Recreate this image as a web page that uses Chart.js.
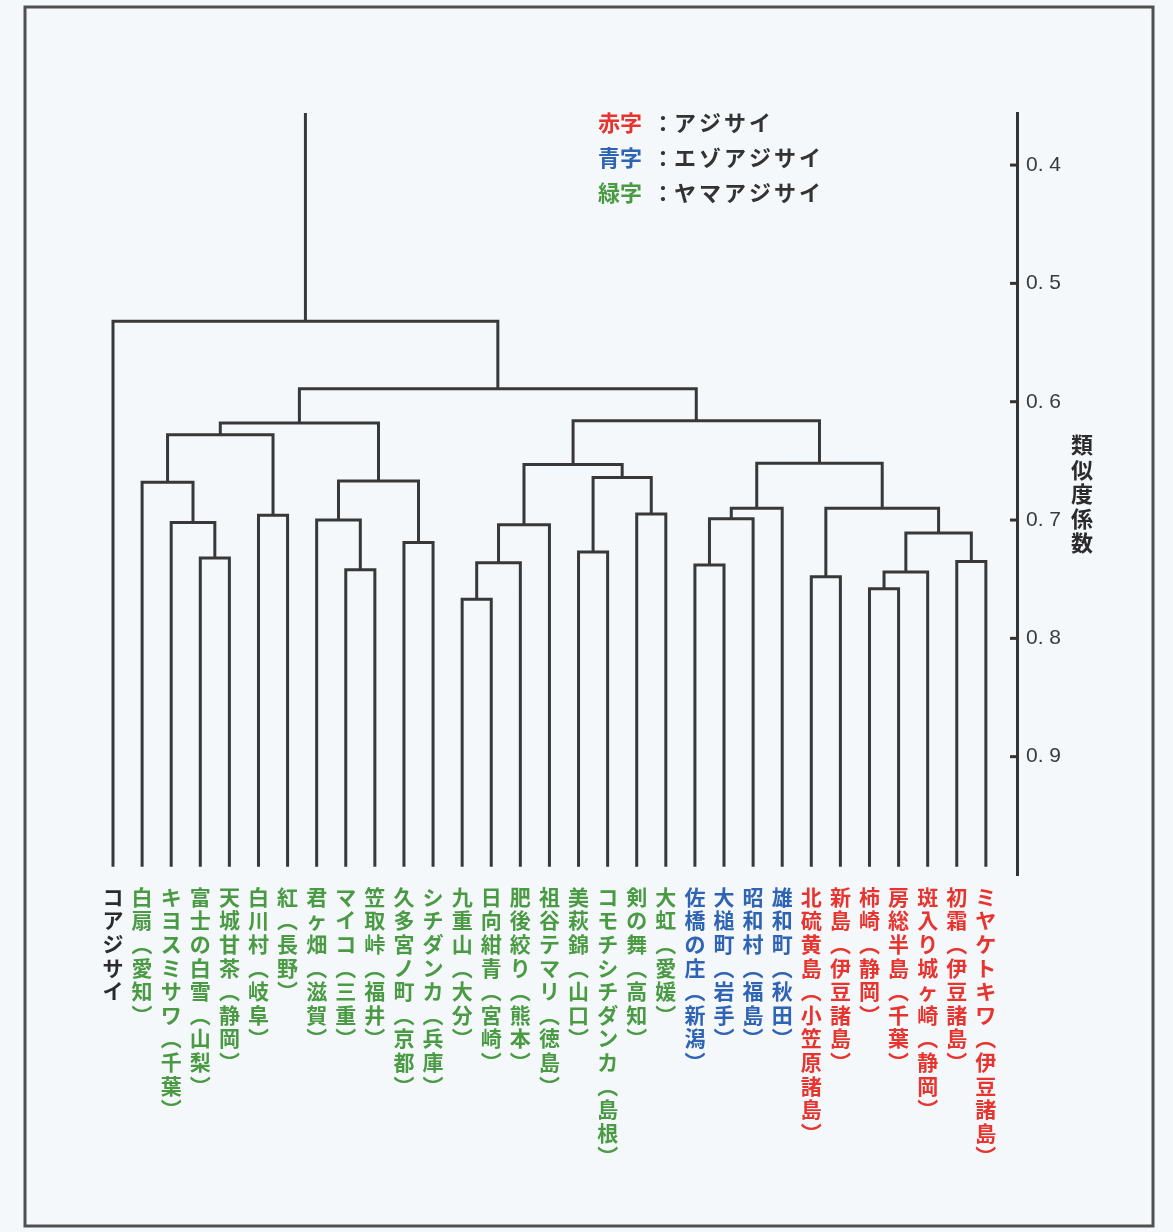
<!DOCTYPE html>
<html lang="ja">
<head>
<meta charset="utf-8">
<title>アジサイ類の類似度係数デンドログラム</title>
<script src="https://cdn.jsdelivr.net/npm/chart.js@4/dist/chart.umd.min.js"></script>
<style>
  html, body { margin: 0; padding: 0; background: #f4f8fb; }
  #wrap { width: 1173px; height: 1232px; position: relative; }
</style>
</head>
<body>
<div id="wrap"><canvas id="dendroChart"></canvas></div>
<script>
// 品種名（左から順に並ぶ葉）
const leafNames = [
  'コアジサイ',
  '白扇（愛知）', 'キヨスミサワ（千葉）', '富士の白雪（山梨）', '天城甘茶（静岡）',
  '白川村（岐阜）', '紅（長野）', '君ヶ畑（滋賀）', 'マイコ（三重）', '笠取峠（福井）',
  '久多宮ノ町（京都）', 'シチダンカ（兵庫）', '九重山（大分）', '日向紺青（宮崎）',
  '肥後絞り（熊本）', '祖谷テマリ（徳島）', '美萩錦（山口）', 'コモチシチダンカ（島根）',
  '剣の舞（高知）', '大虹（愛媛）',
  '佐橋の庄（新潟）', '大槌町（岩手）', '昭和村（福島）', '雄和町（秋田）',
  '北硫黄島（小笠原諸島）', '新島（伊豆諸島）', '柿崎（静岡）', '房総半島（千葉）',
  '斑入り城ヶ崎（静岡）', '初霜（伊豆諸島）', 'ミヤケトキワ（伊豆諸島）'
];
// 0: コアジサイ, 1: アジサイ(赤字), 2: エゾアジサイ(青字), 3: ヤマアジサイ(緑字)
const leafGroups = [
  0,
  3, 3, 3, 3, 3, 3, 3, 3, 3, 3, 3, 3, 3, 3, 3, 3, 3, 3, 3,
  2, 2, 2, 2,
  1, 1, 1, 1, 1, 1, 1
];
const groupColors = ['#2b2b2b', '#e8342e', '#2f63b3', '#4a9a44'];

// 結合（葉は 0〜30、結合ノードは 31 から順に番号を振る）
const mergeLeft  = [3, 2, 1, 5, 33, 8, 7, 10, 37, 35, 12, 41, 42, 16, 18, 44, 43, 20, 48, 49, 24, 26, 52, 29, 53, 51, 50, 47, 40, 0];
const mergeRight = [4, 31, 32, 6, 34, 9, 36, 11, 38, 39, 13, 14, 15, 17, 19, 45, 46, 21, 22, 23, 25, 27, 28, 30, 54, 55, 56, 57, 58, 59];
const mergeHeight = [0.732, 0.702, 0.668, 0.696, 0.628, 0.742, 0.700, 0.719, 0.667, 0.618,
                     0.767, 0.736, 0.704, 0.727, 0.695, 0.664, 0.653, 0.738, 0.699, 0.690,
                     0.748, 0.758, 0.744, 0.735, 0.711, 0.690, 0.652, 0.616, 0.589, 0.532];

const yTicks = [0.4, 0.5, 0.6, 0.7, 0.8, 0.9];
const leafBase = 0.993;
const axisTop = 0.356;
const axisBottom = 1.0;

// 凡例
const legendKeys = ['赤字', '青字', '緑字'];
const legendNames = ['アジサイ', 'エゾアジサイ', 'ヤマアジサイ'];
const legendGroups = [1, 2, 3];
const axisTitle = '類似度係数';

// 縦書き用：括弧を縦書き用の字形にする
function verticalLines(name) {
  return Array.from(name).map(c => c === '（' ? '︵' : c === '）' ? '︶' : c);
}

// 樹形図の線分を作る
const nodeX = leafNames.map((_, i) => i);
const nodeY = leafNames.map(() => leafBase);
const segments = [];
mergeLeft.forEach((l, k) => {
  const r = mergeRight[k];
  const h = mergeHeight[k];
  segments.push([
    { x: nodeX[l], y: nodeY[l] },
    { x: nodeX[l], y: h },
    { x: nodeX[r], y: h },
    { x: nodeX[r], y: nodeY[r] }
  ]);
  nodeX.push((nodeX[l] + nodeX[r]) / 2);
  nodeY.push(h);
});
const rootId = nodeX.length - 1;
segments.push([
  { x: nodeX[rootId], y: nodeY[rootId] },
  { x: nodeX[rootId], y: axisTop }
]);

const CJK = '"Noto Sans CJK JP", "Noto Sans", sans-serif';

const decorPlugin = {
  id: 'decor',
  beforeDraw(chart) {
    const ctx = chart.ctx;
    ctx.save();
    ctx.fillStyle = '#f4f8fb';
    ctx.fillRect(0, 0, chart.width, chart.height);
    ctx.restore();
  },
  afterDraw(chart) {
    const ctx = chart.ctx;
    const area = chart.chartArea;
    const yScale = chart.scales.y;
    ctx.save();

    // 外枠
    ctx.strokeStyle = '#505050';
    ctx.lineWidth = 3;
    ctx.strokeRect(25, 7, 1128, 1219);

    // 目盛り（内向き）
    ctx.strokeStyle = '#333';
    ctx.lineWidth = 3;
    yTicks.forEach(v => {
      const y = yScale.getPixelForValue(v);
      ctx.beginPath();
      ctx.moveTo(area.right - 7, y);
      ctx.lineTo(area.right, y);
      ctx.stroke();
    });

    // 凡例
    ctx.font = 'bold 22px ' + CJK;
    ctx.textBaseline = 'middle';
    ctx.textAlign = 'left';
    legendKeys.forEach((key, i) => {
      const y = 123 + i * 35;
      ctx.fillStyle = groupColors[legendGroups[i]];
      ctx.fillText(key, 598, y);
      ctx.fillStyle = '#333';
      ctx.fillText('：', 652, y);
      Array.from(legendNames[i]).forEach((c, j) => {
        ctx.fillText(c, 674 + j * 25, y);
      });
    });

    // 縦軸タイトル（縦書き）
    ctx.font = 'bold 22px ' + CJK;
    ctx.textAlign = 'center';
    ctx.fillStyle = '#2b2b2b';
    Array.from(axisTitle).forEach((c, i) => {
      ctx.fillText(c, 1082, 445 + i * 24.5);
    });
    ctx.restore();
  }
};

new Chart(document.getElementById('dendroChart'), {
  type: 'scatter',
  data: {
    datasets: segments.map(seg => ({
      data: seg,
      showLine: true,
      borderColor: '#383838',
      borderWidth: 3,
      borderJoinStyle: 'miter',
      borderCapStyle: 'butt',
      pointRadius: 0,
      tension: 0
    }))
  },
  options: {
    responsive: true,
    maintainAspectRatio: false,
    animation: false,
    layout: { padding: { left: 97, top: 113, right: 0, bottom: 0 } },
    plugins: {
      legend: { display: false },
      tooltip: { enabled: false }
    },
    scales: {
      x: {
        type: 'linear',
        min: -0.55,
        max: 31.07,
        grid: { display: false, drawTicks: false },
        border: { display: false },
        afterBuildTicks: scale => {
          scale.ticks = leafNames.map((_, i) => ({ value: i }));
        },
        afterFit: scale => { scale.height = 357; },
        ticks: {
          autoSkip: false,
          maxRotation: 0,
          minRotation: 0,
          padding: 10,
          font: { family: CJK, size: 21, weight: 'bold', lineHeight: '23.6px' },
          color: ctx => groupColors[leafGroups[ctx.index]],
          callback: value => verticalLines(leafNames[value])
        }
      },
      y: {
        type: 'linear',
        position: 'right',
        reverse: true,
        min: axisTop,
        max: axisBottom,
        grid: { display: true, drawOnChartArea: false, drawTicks: false },
        border: { display: true, color: '#333', width: 3 },
        afterBuildTicks: scale => {
          scale.ticks = yTicks.map(v => ({ value: v }));
        },
        afterFit: scale => { scale.width = 156; },
        ticks: {
          padding: 9,
          font: { family: '"Liberation Sans", Arial, sans-serif', size: 21 },
          color: '#3a3a3a',
          callback: value => value.toFixed(1).replace('.', '. ')
        }
      }
    }
  },
  plugins: [decorPlugin]
});
</script>
</body>
</html>
